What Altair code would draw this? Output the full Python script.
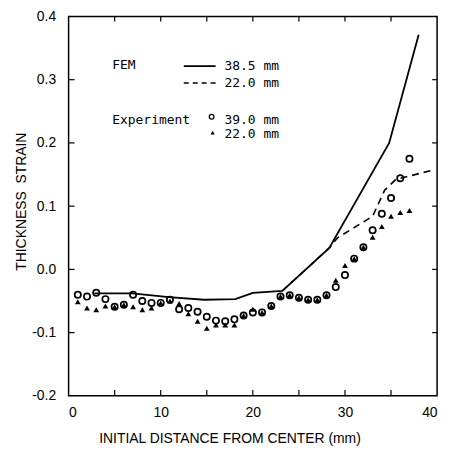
import altair as alt
import pandas as pd

# ---------------- data ----------------
exp_x = list(range(1, 38))
exp39_y = [-0.040, -0.043, -0.037, -0.047, -0.059, -0.056, -0.040, -0.050, -0.053, -0.053,
           -0.048, -0.063, -0.061, -0.067, -0.075, -0.081, -0.082, -0.079, -0.073, -0.068,
           -0.068, -0.058, -0.043, -0.041, -0.045, -0.048, -0.048, -0.041, -0.028, -0.009,
           0.017, 0.035, 0.062, 0.088, 0.113, 0.144, 0.175]
exp22_y = [-0.051, -0.061, -0.064, -0.058, -0.059, -0.056, -0.059, -0.064, -0.061, -0.053,
           -0.050, -0.054, -0.070, -0.082, -0.093, -0.088, -0.088, -0.088, -0.073, -0.063,
           -0.068, -0.058, -0.043, -0.041, -0.045, -0.048, -0.048, -0.041, -0.017, 0.006,
           0.017, 0.035, 0.051, 0.068, 0.084, 0.090, 0.093]

fem385_x = [2.8, 6.9, 10.9, 14.7, 18.1, 20.0, 23.2, 28.3, 34.8, 38.0]
fem385_y = [-0.038, -0.038, -0.044, -0.048, -0.047, -0.037, -0.034, 0.034, 0.200, 0.371]
fem22_x = [23.2, 28.3, 29.2, 33.0, 34.3, 35.5, 39.5]
fem22_y = [-0.034, 0.034, 0.050, 0.084, 0.125, 0.142, 0.157]

x_labels = [0, 10, 20, 30, 40]
y_labels = [-0.2, -0.1, 0.0, 0.1, 0.2, 0.3, 0.4]
x_minor = [5, 10, 15, 20, 25, 30, 35]
y_minor = [-0.1, 0.0, 0.1, 0.2, 0.3]

legend_labels = ["FEM", "38.5 mm", "22.0 mm", "Experiment", "39.0 mm", "22.0 mm"]

# ---------------- layout ----------------
W, H = 371, 382
FONT = "Liberation Sans"
MONO = "DejaVu Sans Mono"

xs = alt.Scale(domain=[0, 40], nice=False, zero=False)
ys = alt.Scale(domain=[-0.2, 0.4], nice=False, zero=False)

xaxis = alt.Axis(values=x_labels, title="INITIAL DISTANCE FROM CENTER (mm)", grid=False,
                 domain=False, ticks=False, tickSize=0, labelPadding=10, format="d",
                 labelFont=FONT, labelFontSize=14, labelColor="black",
                 titleFont=FONT, titleFontSize=14, titleFontWeight="normal", titleColor="black",
                 titleX=162, titleY=47, titleBaseline="alphabetic", titleAlign="center")
yaxis = alt.Axis(values=y_labels, title="THICKNESS\u00a0\u00a0STRAIN", grid=False,
                 domain=False, ticks=False, tickSize=0, labelPadding=13,
                 labelExpr="(datum.value < -0.001 ? '-' : '') + format(abs(datum.value), '.1f')",
                 labelFont=FONT, labelFontSize=14, labelColor="black",
                 titleFont=FONT, titleFontSize=14, titleFontWeight="normal", titleColor="black",
                 titleX=-47, titleY=186, titleAngle=270, titleBaseline="middle", titleAlign="center")

X = lambda: alt.X("x:Q", scale=xs, axis=xaxis)
Y = lambda: alt.Y("y:Q", scale=ys, axis=yaxis)

df39 = pd.DataFrame({"x": exp_x, "y": exp39_y})
df22 = pd.DataFrame({"x": exp_x, "y": exp22_y})
dfs = pd.DataFrame({"x": fem385_x, "y": fem385_y})
dfd = pd.DataFrame({"x": fem22_x, "y": fem22_y})

solid = alt.Chart(dfs).mark_line(color="black", strokeWidth=1.8).encode(x=X(), y=Y())
dashed = alt.Chart(dfd).mark_line(color="black", strokeWidth=1.6, strokeDash=[7, 5]).encode(x=X(), y=Y())
circles = alt.Chart(df39).mark_point(shape="circle", filled=False, color="black",
                                     strokeWidth=1.7, size=40, opacity=1).encode(x=X(), y=Y())
tris = alt.Chart(df22).mark_point(shape="triangle-up", filled=True, color="black",
                                  size=34, opacity=1).encode(x=X(), y=Y())

# inward ticks
dfxm = pd.DataFrame({"x": x_minor})
dfym = pd.DataFrame({"y": y_minor})
tick_b = alt.Chart(dfxm).mark_rule(color="black", strokeWidth=1.2).encode(
    x=X(), y=alt.value(H), y2=alt.value(H - 6))
tick_t = alt.Chart(dfxm).mark_rule(color="black", strokeWidth=1.2).encode(
    x=X(), y=alt.value(0), y2=alt.value(5))
tick_l = alt.Chart(dfym).mark_rule(color="black", strokeWidth=1.2).encode(
    y=Y(), x=alt.value(0), x2=alt.value(6))
tick_r = alt.Chart(dfym).mark_rule(color="black", strokeWidth=1.2).encode(
    y=Y(), x=alt.value(W), x2=alt.value(W - 5))

# legend (placed in pixel positions inside the plot area)
one = pd.DataFrame({"k": [0]})
def ltext(label, px, py):
    return alt.Chart(one).mark_text(text=label, font=MONO, fontSize=13, align="left",
                                    baseline="middle", color="black").encode(
        x=alt.value(px), y=alt.value(py))

leg = [
    ltext(legend_labels[0], 44, 49),
    alt.Chart(one).mark_rule(color="black", strokeWidth=1.6).encode(
        x=alt.value(116), x2=alt.value(148), y=alt.value(50)),
    ltext(legend_labels[1], 157, 50),
    alt.Chart(one).mark_rule(color="black", strokeWidth=1.4, strokeDash=[5, 4]).encode(
        x=alt.value(116), x2=alt.value(148), y=alt.value(67)),
    ltext(legend_labels[2], 157, 67),
    ltext(legend_labels[3], 44, 104),
    alt.Chart(one).mark_point(shape="circle", filled=False, color="black", strokeWidth=1.3,
                              size=22, opacity=1).encode(x=alt.value(144), y=alt.value(101)),
    ltext(legend_labels[4], 157, 104),
    alt.Chart(one).mark_point(shape="triangle-up", filled=True, color="black", size=18,
                              opacity=1).encode(x=alt.value(145), y=alt.value(117)),
    ltext(legend_labels[5], 157, 118),
]

chart = alt.layer(solid, dashed, circles, tris, tick_b, tick_t, tick_l, tick_r, *leg).properties(
    width=W, height=H,
    autosize=alt.AutoSizeParams(type="none"),
    padding={"left": 61, "top": 7, "right": 14, "bottom": 52},
    background="white",
).configure_view(stroke="black", strokeWidth=1.5)

chart.save("out.html", embed_options={"renderer": "svg", "actions": False})
